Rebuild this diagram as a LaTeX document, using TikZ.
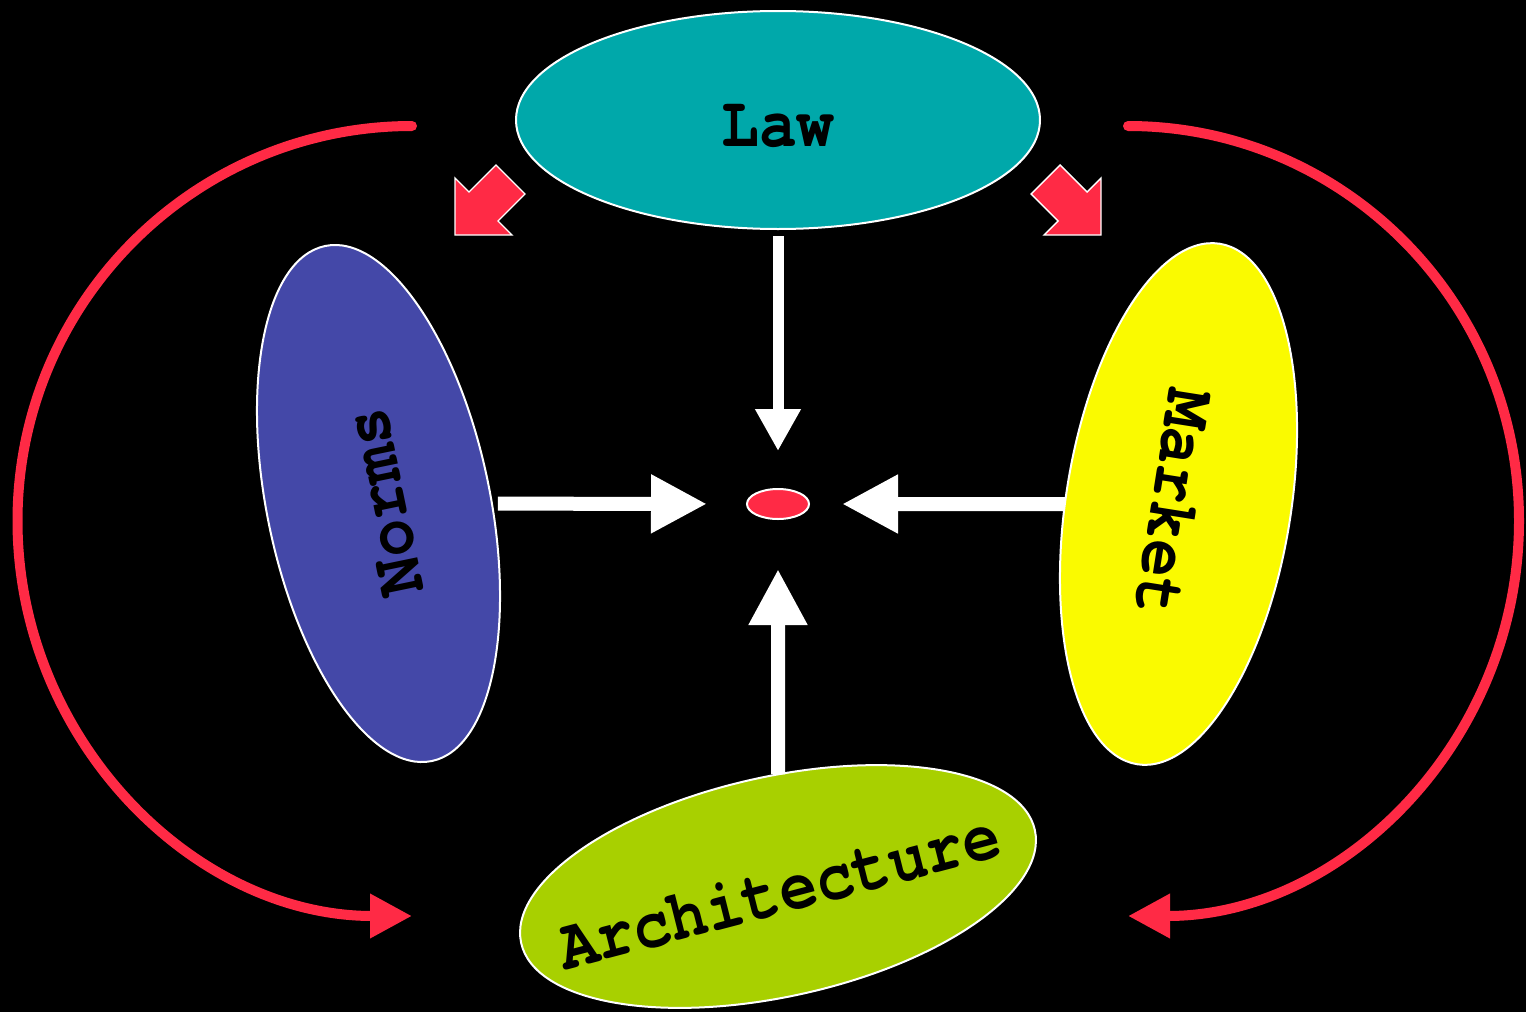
\documentclass[tikz,border=0pt]{standalone}
\usepackage{fontspec}
\usepackage{graphicx}
\newfontfamily\twfont{texgyrecursor}[Extension=.otf, UprightFont=*-regular, BoldFont=*-bold]
\usetikzlibrary{shapes.geometric,arrows.meta}
\definecolor{lteal}{RGB}{0,168,170}
\definecolor{lblue}{RGB}{68,72,168}
\definecolor{lyellow}{RGB}{250,250,0}
\definecolor{lgreen}{RGB}{168,208,0}
\definecolor{lred}{RGB}{255,42,69}
\newcommand\mylbl[2][0pt]{\makebox[0pt]{\raisebox{#1}[\height][0pt]{\scalebox{1}[1.15]{#2}}}}
\begin{document}
\begin{tikzpicture}[x=0.5pt,y=-0.5pt,
  blob/.style={ellipse, draw=white, line width=1pt, inner sep=0pt, outer sep=0pt,
    font=\twfont\bfseries\fontsize{31.5}{32}\selectfont, text=black},
  warrow/.style={draw=white, line width=7pt, -{Triangle[length=28pt,width=27.5pt]}},
  rarc/.style={draw=lred, line width=5pt, line cap=round, -{Triangle[length=21pt,width=21pt]}},
  rblock/.style={fill=lred, draw=white, line width=0.7pt, line join=miter}]
\fill[black] (0,0) rectangle (1526,1012);
\useasboundingbox (0,0) rectangle (1526,1012);
% red curved arrows
\coordinate (lstart) at (412,126);
\coordinate (rstart) at (1128,126);
\draw[rarc] (lstart) arc[start angle=90, end angle=270, x radius=197.25pt, y radius=197.5pt];
\draw[rarc] (rstart) arc[start angle=90, end angle=-90, x radius=195.5pt, y radius=197.5pt];
% ellipses
\node[blob, fill=lteal, minimum width=262pt, minimum height=109pt] (law) at (778,120) {\mylbl[-2.5pt]{Law}};
\node[blob, fill=lblue, minimum width=263pt, minimum height=111.5pt, rotate=101.7] (norms) at (378.5,503.5) {\mylbl[-3pt]{Norms}};
\node[blob, fill=lyellow, minimum width=263.5pt, minimum height=112.5pt, rotate=-99] (market) at (1178.5,504) {\mylbl[-2pt]{Market}};
\node[blob, fill=lgreen, minimum width=263pt, minimum height=110pt, rotate=12.4] (arch) at (778,886.5) {\mylbl[-2pt]{\rotatebox{2}{Architecture}}};
\node[ellipse, fill=lred, draw=white, line width=1pt, minimum width=31pt, minimum height=15pt, inner sep=0pt, outer sep=0pt] (dot) at (778,504) {};
% red block arrows
\path[rblock] (455,235) -- (455,178) -- (469,192) -- (496,165) -- (525,194) -- (498,221) -- (512,235) -- cycle;
\path[rblock] (1101,235) -- (1101,178) -- (1087,192) -- (1060,165) -- (1031,194) -- (1058,221) -- (1044,235) -- cycle;
% white arrows
\draw[warrow, line width=5.5pt, -{Triangle[length=21pt,width=21.5pt]}, shorten <=3.5pt, shorten >=19pt] (law.south) -- (dot.north);
\draw[warrow, shorten <=3pt, shorten >=20pt] (norms) -- (dot);
\draw[warrow, shorten >=16.5pt] (market) -- (dot);
\draw[warrow, shorten >=25pt] (arch) -- (dot);
\end{tikzpicture}
\end{document}
